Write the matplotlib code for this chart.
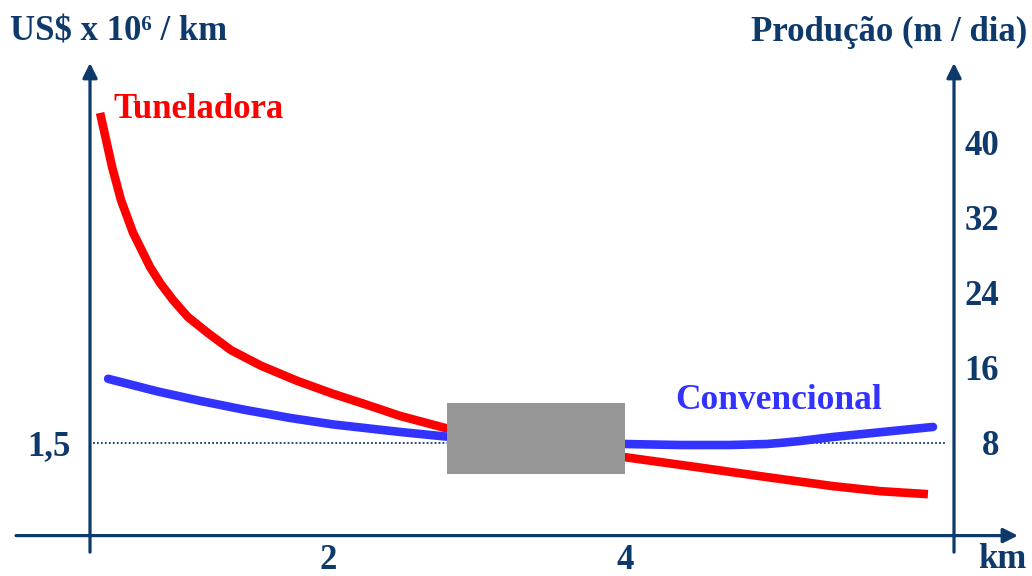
import numpy as np
import matplotlib.pyplot as plt
from matplotlib.patches import Rectangle

# curva de custo da tuneladora (km, US$ x 10^6 / km)
km_tun = [0.465, 0.495, 0.546, 0.606, 0.687, 0.801, 0.869, 0.956, 1.057,
          1.192, 1.347, 1.549, 1.791, 2.034, 2.263, 2.485, 2.788,
          3.993, 4.505, 4.956, 5.401, 5.717, 6.040]
custo_tun = [8.08, 7.68, 7.00, 6.34, 5.69, 5.01, 4.69, 4.35, 4.01,
             3.69, 3.35, 3.04, 2.74, 2.48, 2.26, 2.04, 1.80,
             1.22, 1.01, 0.82, 0.64, 0.54, 0.48]

# curva do metodo convencional
km_conv = [0.519, 0.849, 1.138, 1.441, 1.744, 2.034, 2.485, 2.788,
           3.993, 4.370, 4.707, 4.956, 5.077, 5.179, 5.401, 5.737, 6.074]
custo_conv = [2.78, 2.53, 2.34, 2.16, 2.00, 1.87, 1.72, 1.63,
              1.48, 1.46, 1.46, 1.48, 1.51, 1.54, 1.62, 1.72, 1.82]

custo_ref = 1.5
faixa_km = [2.8, 4.0]
faixa_custo = [0.88, 2.30]

x_ticks = [2, 4]
prod_ticks = [8, 16, 24, 32, 40]

navy = '#0e3a6b'
plt.rcParams['font.family'] = ['Liberation Serif', 'DejaVu Serif']
plt.rcParams['font.weight'] = 'bold'

fig = plt.figure(figsize=(10.32, 5.76), dpi=100)
ax = fig.add_axes([90 / 1032, (576 - 535.6) / 576, 864 / 1032, 472.6 / 576])

ax.set_xlim(0.397, 6.2155)
ax.set_ylim(-0.346, 9.075)
for s in ax.spines.values():
    s.set_visible(False)

# eixos com setas
arr = dict(arrowstyle='-|>', color=navy, lw=2.3, mutation_scale=22,
           shrinkA=0, shrinkB=0)
for xa in (0, 1):
    ax.annotate('', xy=(xa, 1.0), xytext=(xa, -0.035), xycoords='axes fraction',
                arrowprops=arr, annotation_clip=False)
ax.annotate('', xy=(1.074, 0), xytext=(-0.0856, 0), xycoords='axes fraction',
            arrowprops=arr, annotation_clip=False)

ax.axhline(custo_ref, xmin=0.003, xmax=0.99, color=navy, lw=1.3,
           linestyle=(0, (1, 1.2)), zorder=1)

ax.plot(km_tun, custo_tun, color='#ff0000', lw=6.2, solid_capstyle='butt',
        solid_joinstyle='round', zorder=2)
ax.plot(km_conv, custo_conv, color='#3333ff', lw=6.2, solid_capstyle='round',
        solid_joinstyle='round', zorder=2)

ax.add_patch(Rectangle((faixa_km[0], faixa_custo[0]), faixa_km[1] - faixa_km[0],
                       faixa_custo[1] - faixa_custo[0], facecolor='#969696',
                       edgecolor='none', zorder=3))

ax.set_xticks(x_ticks)
ax.set_xticklabels([str(v) for v in x_ticks])
ax.set_yticks([custo_ref])
ax.set_yticklabels(['1,5'])
ax.tick_params(axis='x', length=0, pad=6, labelsize=25, labelcolor=navy)
ax.tick_params(axis='y', length=0, pad=14, labelsize=25, labelcolor=navy)

ax2 = ax.twinx()
ax2.set_ylim(-1.845, 48.40)
for s in ax2.spines.values():
    s.set_visible(False)
ax2.set_yticks(prod_ticks)
ax2.set_yticklabels([str(v) for v in prod_ticks])
ax2.tick_params(axis='y', length=0, pad=32.4, labelsize=25, labelcolor=navy)
for lbl in ax2.get_yticklabels():
    lbl.set_ha('right')

fig.text(10 / 1032, 1 - 32 / 576, 'US$ x 10\u2076 / km', color=navy, fontsize=25,
         ha='left', va='center')
fig.text(1027 / 1032, 1 - 32 / 576, 'Produção (m / dia)', color=navy, fontsize=25,
         ha='right', va='center')
fig.text(1002 / 1032, 1 - 559 / 576, 'km', color=navy, fontsize=25,
         ha='center', va='center')

fig.text(113 / 1032, 1 - 118 / 576, 'Tuneladora', color='#ff0000', fontsize=25,
         ha='left', va='baseline')
fig.text(675 / 1032, 1 - 409 / 576, 'Convencional', color='#3333ff', fontsize=25.5,
         ha='left', va='baseline')

fig.savefig('out.png', dpi=100)
